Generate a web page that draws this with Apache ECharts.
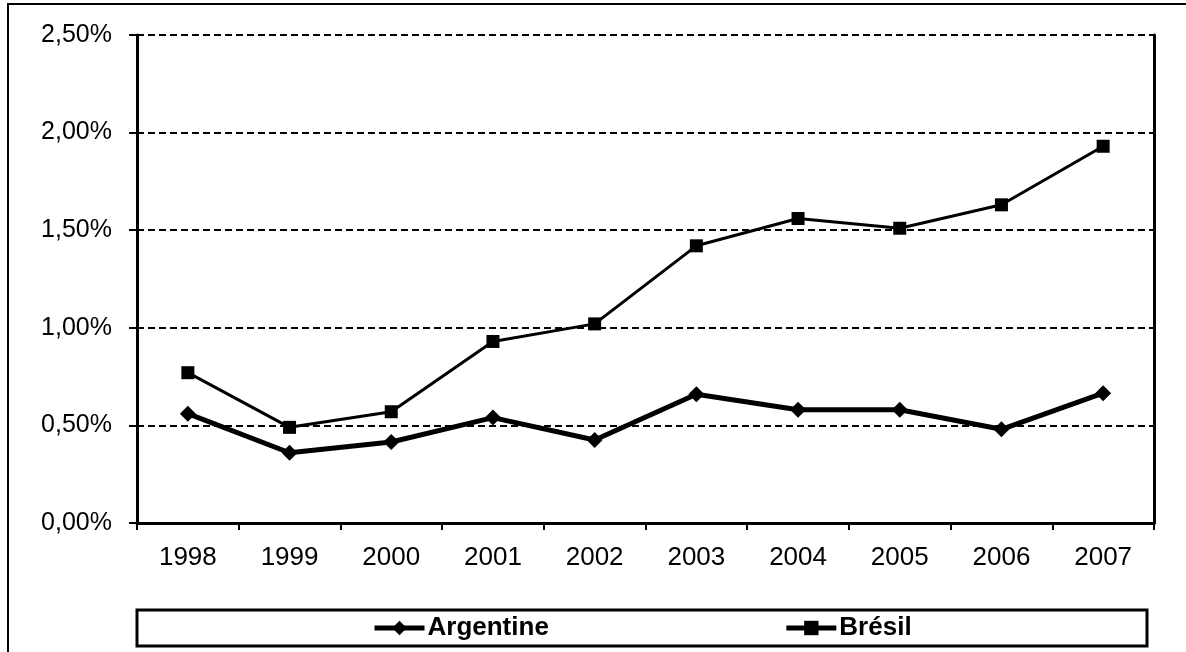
<!DOCTYPE html>
<html>
<head>
<meta charset="utf-8">
<script src="https://cdn.jsdelivr.net/npm/echarts@6/dist/echarts.min.js"></script>
<style>
  html, body { margin: 0; padding: 0; background: #fff; }
  #chart { width: 1186px; height: 652px; }
</style>
</head>
<body>
<div id="chart"></div>
<script>
// Years on the category axis
const years = ['1998', '1999', '2000', '2001', '2002', '2003', '2004', '2005', '2006', '2007'];
// Shares in percent
const argentine = [0.56, 0.36, 0.415, 0.54, 0.425, 0.66, 0.58, 0.58, 0.48, 0.665];
const bresil = [0.77, 0.49, 0.57, 0.93, 1.02, 1.42, 1.56, 1.51, 1.63, 1.93];
const seriesNames = ['Argentine', 'Brésil'];

const FONT = '"Liberation Sans", Arial, sans-serif';
const fmtPct = v => v.toFixed(2).replace('.', ',') + '%';

const chart = echarts.init(document.getElementById('chart'), null, { renderer: 'canvas' });

chart.setOption({
  backgroundColor: '#fff',
  animation: false,
  grid: { left: 137, right: 32, top: 35, bottom: 129 },
  graphic: [
    {
      type: 'rect', silent: true, z: 0,
      shape: { x: 8, y: 4, width: 1200, height: 700 },
      style: { fill: 'none', stroke: '#000', lineWidth: 2 }
    },
    {
      type: 'rect', silent: true, z: 0,
      shape: { x: 137, y: 610, width: 1010, height: 36 },
      style: { fill: '#fff', stroke: '#000', lineWidth: 3 }
    }
  ],
  legend: {
    data: seriesNames,
    left: 372,
    top: 615,
    itemWidth: 50,
    itemHeight: 18,
    itemGap: 235,
    padding: 0,
    lineStyle: { width: 5, color: '#000' },
    itemStyle: { color: '#000' },
    textStyle: { fontFamily: FONT, fontSize: 26, fontWeight: 'bold', color: '#000', padding: [0, 0, 0, -2] }
  },
  xAxis: {
    type: 'category',
    data: years,
    boundaryGap: true,
    axisLine: { lineStyle: { color: '#000', width: 3 } },
    axisTick: { show: true, length: 7, lineStyle: { color: '#000', width: 2 } },
    axisLabel: { fontFamily: FONT, fontSize: 26, color: '#000', margin: 22 },
    splitLine: { show: false }
  },
  yAxis: [
    {
      type: 'value',
      min: 0, max: 2.5, interval: 0.5,
      axisLine: { show: true, lineStyle: { color: '#000', width: 3 } },
      axisTick: { show: true, length: 8, lineStyle: { color: '#000', width: 2 } },
      axisLabel: { fontFamily: FONT, fontSize: 25, color: '#000', margin: 25, formatter: fmtPct },
      splitLine: { show: true, lineStyle: { color: '#000', width: 2, type: [7, 4] } }
    },
    {
      type: 'value',
      position: 'right',
      min: 0, max: 2.5, interval: 0.5,
      axisLine: { show: true, lineStyle: { color: '#000', width: 3 } },
      axisTick: { show: false },
      axisLabel: { show: false },
      splitLine: { show: false }
    }
  ],
  series: [
    {
      name: seriesNames[0],
      type: 'line',
      data: argentine,
      symbol: 'diamond',
      symbolSize: 16,
      lineStyle: { color: '#000', width: 5 },
      itemStyle: { color: '#000' },
      z: 3
    },
    {
      name: seriesNames[1],
      type: 'line',
      data: bresil,
      symbol: 'rect',
      symbolSize: 13,
      lineStyle: { color: '#000', width: 3 },
      itemStyle: { color: '#000' },
      z: 3
    }
  ]
});
</script>
</body>
</html>
